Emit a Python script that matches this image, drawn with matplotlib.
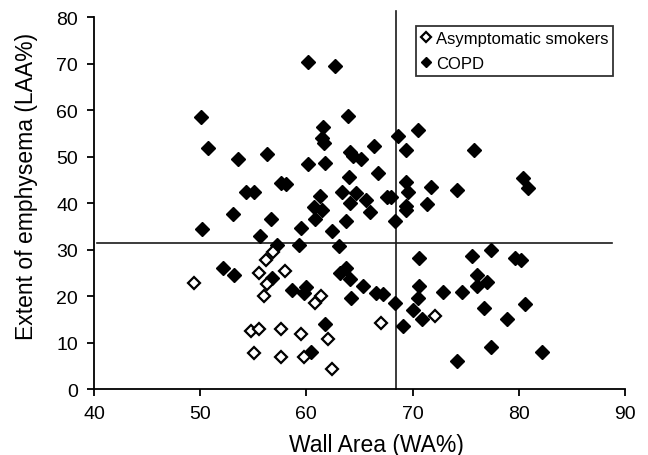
import matplotlib
matplotlib.use("Agg")
import matplotlib.pyplot as plt

plt.rcParams['font.family'] = ['Liberation Sans', 'DejaVu Sans']

# Asymptomatic smokers (open diamonds)
asym_wa = [49.45, 56.9, 56.2, 55.5, 58.0, 56.3, 56.0, 61.35, 60.8, 67.0,
           62.05, 54.75, 55.5, 57.65, 59.5, 55.05, 57.65, 59.75, 62.45, 72.1]
asym_laa = [22.7, 29.5, 27.8, 24.9, 25.4, 22.6, 19.9, 19.9, 18.5, 14.1,
            10.8, 12.4, 12.9, 12.8, 11.8, 7.8, 6.8, 6.8, 4.3, 15.8]

# COPD (filled diamonds)
copd_wa = [60.2, 62.65, 50.1, 63.9, 61.6, 61.5, 61.65, 66.35, 50.7, 53.6,
           56.3, 64.1, 64.35, 65.1, 60.2, 61.75, 66.7, 64.0, 57.6, 58.1,
           54.3, 55.1, 61.3, 63.35, 64.7, 60.75, 61.5, 64.1, 65.6, 66.0,
           60.8, 63.7, 53.05, 56.7, 50.2, 59.45, 62.4, 55.6, 59.3, 63.1,
           57.25, 52.15, 53.2, 56.8, 58.6, 59.95, 59.8, 63.7, 63.15, 64.15,
           65.3, 64.2, 66.6, 67.2, 61.8, 60.4, 67.6, 68.0, 68.3, 68.35,
           68.6, 70.55, 69.35, 75.8, 80.4, 80.9, 69.4, 69.6, 71.7, 74.15,
           69.35, 69.4, 71.35, 77.4, 70.6, 75.6, 79.65, 80.25, 76.1, 77.0,
           76.05, 70.6, 70.5, 72.9, 74.7, 70.05, 70.85, 69.1, 76.7, 80.6,
           78.9, 77.35, 74.2, 82.2]
copd_laa = [70.4, 69.5, 58.5, 58.8, 56.4, 53.9, 52.8, 52.3, 51.8, 49.4,
            50.5, 50.9, 50.2, 49.4, 48.4, 48.6, 46.4, 45.6, 44.4, 44.1,
            42.4, 42.3, 41.6, 42.4, 42.2, 39.1, 38.6, 39.9, 40.6, 38.1,
            36.6, 36.1, 37.7, 36.5, 34.4, 34.6, 34.0, 32.8, 31.0, 30.7,
            31.0, 26.1, 24.6, 23.9, 21.4, 21.9, 20.6, 26.0, 24.9, 23.7,
            22.1, 19.6, 20.6, 20.4, 14.0, 8.0, 41.2, 41.4, 36.1, 18.6,
            54.5, 55.7, 51.3, 51.5, 45.3, 43.2, 44.6, 42.3, 43.4, 42.8,
            39.4, 38.6, 39.8, 30.0, 28.1, 28.7, 28.2, 27.8, 24.5, 23.1,
            22.2, 22.2, 19.6, 20.8, 20.8, 17.1, 15.1, 13.6, 17.4, 18.3,
            15.1, 9.0, 6.0, 8.0]

series_labels = ["Asymptomatic smokers", "COPD"]
x_ticks = [40, 50, 60, 70, 80, 90]
y_ticks = [0, 10, 20, 30, 40, 50, 60, 70, 80]
wa_cutoff = 68.4
laa_cutoff = 31.4

W, H = 648, 456
fig = plt.figure(figsize=(W / 100, H / 100), dpi=100)
ax = fig.add_axes([0.145, 0.1447, 0.8195, 0.8158])

ax.plot(copd_wa, copd_laa, linestyle='none', marker='D', markersize=7.2,
        markerfacecolor='black', markeredgecolor='black', markeredgewidth=1.0,
        label=series_labels[1], zorder=3)
ax.plot(asym_wa, asym_laa, linestyle='none', marker='D', markersize=6.6,
        markerfacecolor='white', markeredgecolor='black', markeredgewidth=1.6,
        label=series_labels[0], zorder=4)

# threshold lines
ax.plot([wa_cutoff, wa_cutoff], [0, 81.3], color='#1a1a1a', lw=1.2,
        clip_on=False, zorder=2)
ax.plot([40.3, 88.75], [laa_cutoff, laa_cutoff], color='#1a1a1a', lw=1.2,
        clip_on=False, zorder=2)

ax.set_xlim(x_ticks[0], x_ticks[-1])
ax.set_ylim(y_ticks[0], y_ticks[-1])
ax.set_xticks(x_ticks)
ax.set_yticks(y_ticks)
for s in ['top', 'right']:
    ax.spines[s].set_visible(False)
for s in ['left', 'bottom']:
    ax.spines[s].set_linewidth(1.3)
    ax.spines[s].set_color('black')
ax.tick_params(direction='out', length=5, width=1.3, labelsize=14, pad=6.5)

fig.text(376 / W, 1 - 446 / H, "Wall Area (WA%)", fontsize=16.5,
         ha='center', va='center')
fig.text(27 / W, 1 - 186 / H, "Extent of emphysema (LAA%)", fontsize=16.5,
         ha='center', va='center', rotation=90)

handles, labels = ax.get_legend_handles_labels()
leg = ax.legend([handles[1], handles[0]], [labels[1], labels[0]],
                loc='upper left', bbox_to_anchor=(0.606, 0.977),
                borderaxespad=0, fontsize=12, frameon=True, fancybox=False,
                markerscale=0.75, handlelength=0.6, handletextpad=0.3,
                borderpad=0.3, labelspacing=0.62)
leg.get_frame().set_edgecolor('black')
leg.get_frame().set_linewidth(1.3)

fig.savefig("out.png", dpi=100)
